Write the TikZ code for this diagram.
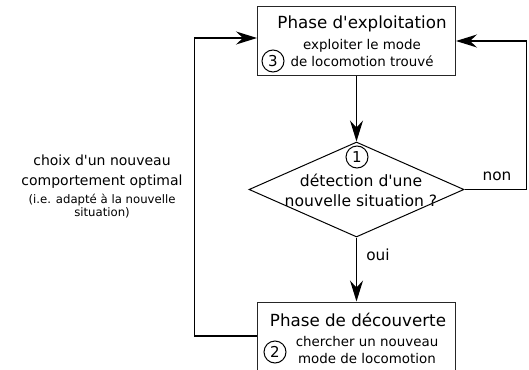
\documentclass[tikz,border=0pt]{standalone}
\usepackage{fontspec}
\setmainfont{DejaVu Sans}
\usetikzlibrary{arrows.meta,shapes.geometric,positioning}

\begin{document}
\begin{tikzpicture}[x=1pt, y=-1pt, >={Stealth[length=21pt,width=13pt,inset=7pt]},
      phasebox/.style={draw=black!85, line width=1pt, minimum width=198pt,
                       minimum height=68pt, inner sep=0pt},
      decision/.style={diamond, draw, line width=1pt, minimum width=215pt,
                       minimum height=95pt, inner sep=0pt},
      titletxt/.style={font=\fontsize{16.7}{19}\selectfont},
      subtxt/.style={font=\fontsize{13.4}{16.5}\selectfont, align=center},
      numcirc/.style={circle, draw, line width=1pt, minimum size=22pt,
                      inner sep=0pt, font=\fontsize{15}{15}\selectfont},
      lbl/.style={font=\fontsize{14}{20}\selectfont, align=center},
      arr/.style={->, line width=1.2pt}
    ]
    \clip (0,0) rectangle (529,369);

    % phase d'exploitation
    \node[phasebox] (expl) at (356.5,41) {};
    \node[titletxt] (explT) at (362,24) {Phase d\textquotesingle exploitation};
    \node[subtxt] (explS) at (362,53) {exploiter le mode\\de locomotion trouvé};
    \node[numcirc] (n3) at (273,61) {3};

    % test
    \node[decision] (detect) at (356.5,189.5) {};
    \node[numcirc] (n1) at (357,157) {1};
    \node[font=\fontsize{15.6}{20}\selectfont, align=center] (detectT) at (361,190)
          {détection d\textquotesingle une\\nouvelle situation ?};

    % phase de decouverte
    \node[phasebox] (disc) at (356.5,336) {};
    \node[titletxt] (discT) at (358,320) {Phase de découverte};
    \node[subtxt] (discS) at (367,350) {chercher un nouveau\\mode de locomotion};
    \node[numcirc] (n2) at (275,352) {2};

    \node[lbl, font=\fontsize{15.3}{20}\selectfont] (non) at (497,176) {non};
    \node[lbl, font=\fontsize{15.3}{20}\selectfont] (oui) at (378,255) {oui};
    \node[lbl] (choix) at (102,172) {choix d\textquotesingle un nouveau\\comportement optimal};
    \node[font=\fontsize{11.7}{13.5}\selectfont, align=center] (choixN) at (102,206)
          {(i.e. adapté à la nouvelle\\situation)};

    \draw[arr] (expl.south) -- (detect.north);
    \draw[arr] (detect.south) -- (disc.north);
    \draw[arr] (disc.west) -- ++(-62.5,0) |- ([yshift=3pt]expl.west);
    \draw[arr] (detect.east) -- ++(62,0) |- (expl.east);
\end{tikzpicture}
\end{document}
